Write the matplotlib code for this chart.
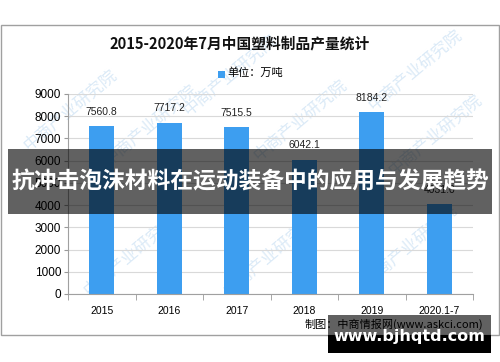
import matplotlib
matplotlib.use("Agg")
import matplotlib.pyplot as plt
from matplotlib.patches import Rectangle

# ----------------------------------------------------------------------
# Dados
# ----------------------------------------------------------------------
anos = ["2015", "2016", "2017", "2018", "2019", "2020.1-7"]
producao = [7560.8, 7717.2, 7515.5, 6042.1, 8184.2, 4031.0]
rotulos = ["7560.8", "7717.2", "7515.5", "6042.1", "8184.2", "4031.0"]
titulo = "2015-2020年7月中国塑料制品产量统计"
legenda = "单位：万吨"
fonte = "制图：中商情报网(www.askci.com)"
faixa = "抗冲击泡沫材料在运动装备中的应用与发展趋势"
marca = "www.bjhqtd.com"
marca_fundo = "中商产业研究院"

W, H = 500, 362
AZUL = "#3d9ef0"
CJK = ["Noto Sans CJK SC", "DejaVu Sans"]


def fx(x):
    return x / W


def fy(y):
    return 1 - y / H


fig = plt.figure(figsize=(W / 100, H / 100), dpi=100)
fig.patch.set_facecolor("white")

# moldura cinza do grafico
fig.patches.append(Rectangle((fx(1), fy(335)), fx(498), 310 / H, transform=fig.transFigure,
                             facecolor="none", edgecolor="#a0a0a0", lw=1.0, zorder=-2))

# marcas d'agua de fundo
for (px, py) in [(70, 110), (230, 75), (415, 70), (130, 255), (270, 255), (410, 245),
                 (435, 135), (300, 120), (150, 125)]:
    fig.text(fx(px), fy(py), marca_fundo, family=CJK, fontsize=12, color="#dbeaf7",
             rotation=40, ha="center", va="center", zorder=-1)

ax = fig.add_axes([fx(68), fy(294), fx(473 - 68), (294 - 94) / H])
ax.patch.set_visible(False)

x = list(range(len(anos)))
barras = ax.bar(x, producao, width=0.37, color=AZUL, zorder=2)
for xi, v, r in zip(x, producao, rotulos):
    ax.text(xi, v + 420, r, ha="center", va="bottom", fontsize=7.5,
            family="Liberation Sans", color="#222222")

ax.set_xlim(-0.5, 5.5)
ax.set_ylim(0, 9000)
ax.set_yticks(range(0, 9001, 1000))
ax.set_yticklabels([str(v) for v in range(0, 9001, 1000)], family="Liberation Sans", fontsize=8.5)
ax.set_xticks(x)
ax.set_xticklabels(anos, family="Liberation Sans", fontsize=7.5)
ax.set_xticks([i - 0.5 for i in range(len(anos) + 1)], minor=True)
ax.tick_params(axis="x", which="major", length=0, pad=9)
ax.tick_params(axis="x", which="minor", length=4, color="#999999")
ax.tick_params(axis="y", length=3, color="#999999", pad=2)
ax.grid(axis="y", color="#d9d9d9", lw=0.8, zorder=0)
for s in ["top", "right"]:
    ax.spines[s].set_visible(False)
for s in ["left", "bottom"]:
    ax.spines[s].set_color("#a0a0a0")

# titulo e legenda
fig.text(fx(240), fy(43), titulo, family=CJK, fontsize=10.6, fontweight="bold",
         ha="center", va="center", color="#111111")
fig.patches.append(Rectangle((fx(218), fy(78)), fx(7), 7 / H, transform=fig.transFigure,
                             facecolor=AZUL, edgecolor="none"))
fig.text(fx(227), fy(73), legenda, family=CJK, fontsize=8, ha="left", va="center")
fig.text(fx(305), fy(324), fonte, family=CJK, fontsize=8, ha="left", va="center")

# faixa escura com o titulo do artigo
fig.patches.append(Rectangle((fx(8), fy(214)), fx(484), 65 / H, transform=fig.transFigure,
                             facecolor="black", alpha=0.62, edgecolor="none", zorder=10))
fig.text(fx(250), fy(182), faixa, family=CJK, fontsize=16.4, fontweight="bold",
         color="white", ha="center", va="center", zorder=11)

# marca d'agua do site
fig.patches.append(Rectangle((fx(328), fy(335)), fx(163), 20 / H, transform=fig.transFigure,
                             facecolor="black", alpha=0.62, edgecolor="none", zorder=10))
fig.patches.append(Rectangle((fx(328), fy(353)), fx(163), 18 / H, transform=fig.transFigure,
                             facecolor="black", edgecolor="none", zorder=10))
fig.text(fx(409), fy(337), marca, family="DejaVu Sans", fontsize=11.5, fontweight="bold",
         color="white", ha="center", va="center", zorder=11)

fig.savefig("out.png", dpi=100)
